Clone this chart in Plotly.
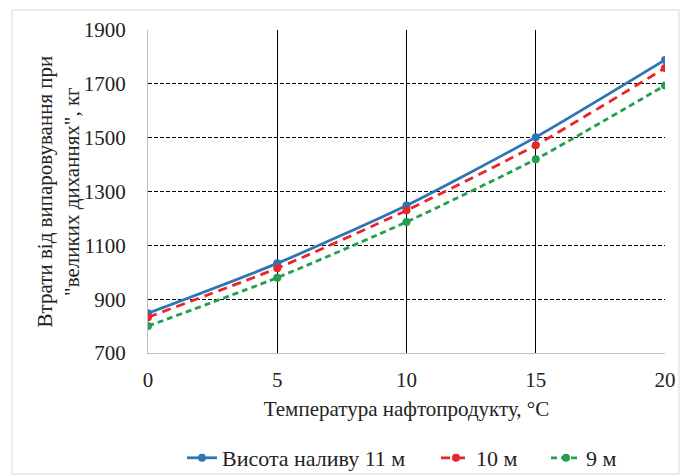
import plotly.graph_objects as go

temps = [0, 5, 10, 15, 20]
h11 = [848, 1033, 1248, 1502, 1789]
h10 = [833, 1015, 1230, 1472, 1759]
h9 = [800, 980, 1187, 1420, 1694]
names = ["Висота наливу 11 м", "10 м", "9 м"]
y_ticks = [700, 900, 1100, 1300, 1500, 1700, 1900]
x_ticks = [0, 5, 10, 15, 20]

FONT = "Liberation Serif"

fig = go.Figure()
styles = [
    ("#2e75b6", "solid", h11, names[0], "legend"),
    ("#e8262a", "9px,6px", h10, names[1], "legend2"),
    ("#22a04b", "6px,4px", h9, names[2], "legend3"),
]
for color, dash, vals, nm, lg in styles:
    fig.add_trace(go.Scatter(
        x=temps, y=vals, name=nm, mode="lines+markers", legend=lg,
        line=dict(color=color, width=2.8, dash=dash, shape="spline", smoothing=0.6),
        marker=dict(color=color, size=8),
    ))

def legend_at(px):
    return dict(orientation="h", x=px / 680, xanchor="left", xref="container",
                y=(475 - 458) / 475, yanchor="middle", yref="container",
                font=dict(family=FONT, size=22, color="#222"),
                bgcolor="rgba(0,0,0,0)")

fig.update_layout(
    width=680, height=475,
    margin=dict(l=148, r=15, t=30, b=122),
    paper_bgcolor="white", plot_bgcolor="white",
    font=dict(family=FONT, size=21, color="#222"),
    showlegend=True,
    legend=legend_at(182),
    legend2=legend_at(436),
    legend3=legend_at(546),
    xaxis=dict(range=[0, 20], tickvals=x_ticks, showgrid=True, gridcolor="#000",
               gridwidth=1, showline=True, linecolor="#bfbfbf", linewidth=1,
               ticks="", ticklabelstandoff=8, zeroline=False, automargin=False,
               tickfont=dict(family=FONT, size=21, color="#222"),
               title=dict(text="Температура нафтопродукту, °С", standoff=10,
                          font=dict(family=FONT, size=21, color="#222"))),
    yaxis=dict(range=[700, 1900], tickvals=y_ticks, showgrid=True, gridcolor="#000",
               gridwidth=1, griddash="4px,2px", showline=True, linecolor="#bfbfbf",
               linewidth=1, ticks="", ticklabelstandoff=17, zeroline=False,
               automargin=False,
               tickfont=dict(family=FONT, size=21, color="#222")),
    annotations=[dict(
        text="Втрати від випаровування при<br>\"великих диханнях\", кг",
        xref="paper", yref="paper", x=0, y=0.5, xanchor="center", yanchor="middle",
        xshift=-90, textangle=-90, showarrow=False,
        font=dict(family=FONT, size=21, color="#222"))],
    shapes=[dict(type="rect", xref="paper", yref="paper",
                 x0=(12 - 148) / 517, x1=(679 - 148) / 517,
                 y0=(353 - 474) / 323, y1=(353 - 10) / 323,
                 line=dict(color="#d9d9d9", width=1), layer="below")],
)

fig.write_html("out.html", config={"displayModeBar": False},
               post_script="document.body.style.margin='0';document.body.style.padding='0';document.body.style.overflow='hidden';")
